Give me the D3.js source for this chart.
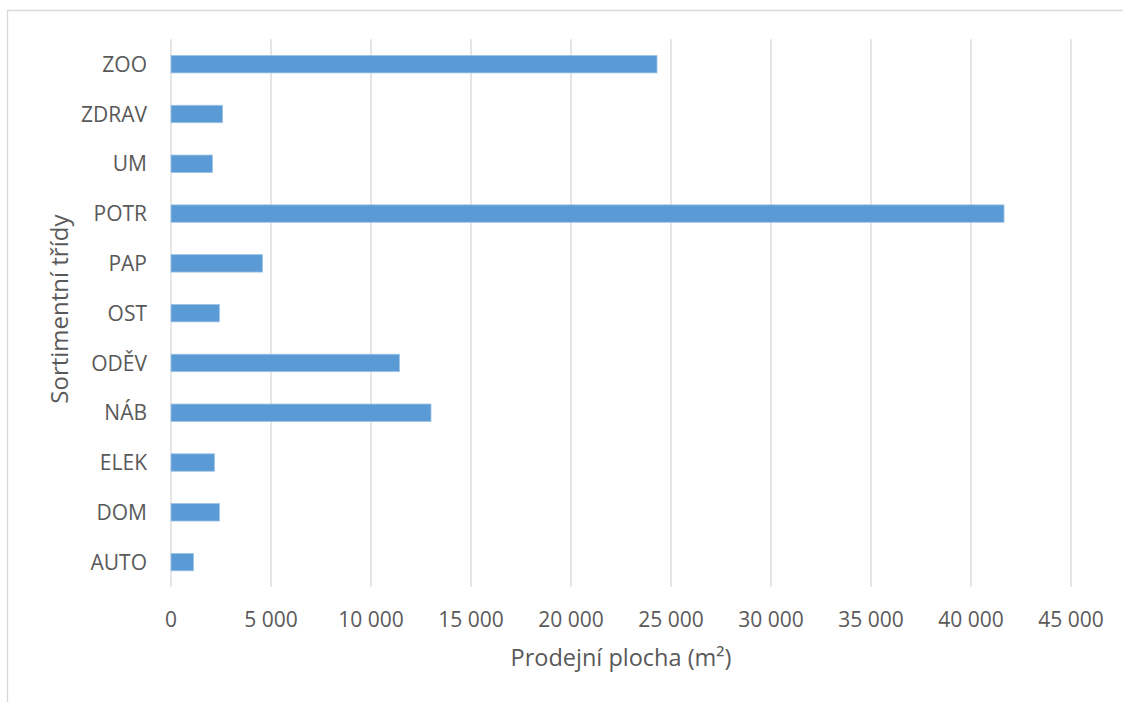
<!DOCTYPE html>
<html>
<head>
<meta charset="utf-8">
<script src="https://cdn.jsdelivr.net/npm/d3@7"></script>
<style>
  body { margin: 0; background: #fff; }
  svg text { font-family: 'Open Sans', sans-serif; fill: #595959; }
</style>
</head>
<body>
<div id="chart"></div>
<script>
  // categories (bottom to top, as in the source sheet) and floor areas in m²
  const categories = ['AUTO', 'DOM', 'ELEK', 'NÁB', 'ODĚV', 'OST', 'PAP', 'POTR', 'UM', 'ZDRAV', 'ZOO'];
  const areas = [1120, 2420, 2170, 13000, 11420, 2420, 4570, 41650, 2070, 2580, 24300];
  const xTicks = [0, 5000, 10000, 15000, 20000, 25000, 30000, 35000, 40000, 45000];
  const xTitle = 'Prodejní plocha (m²)';
  const yTitle = 'Sortimentní třídy';

  const width = 1123;
  const height = 702;
  const plot = { left: 171, right: 1071, top: 39.3, bottom: 587 };

  const data = categories.map((c, i) => ({ cat: c, value: areas[i] }));

  const svg = d3.select('#chart').append('svg')
    .attr('width', width)
    .attr('height', height);

  // chart area border (only top and left edges fall inside the picture)
  svg.append('path')
    .attr('d', `M7.5,${height} V10.5 H${width}`)
    .attr('fill', 'none')
    .attr('stroke', '#d9d9d9')
    .attr('stroke-width', 1.3);

  const x = d3.scaleLinear()
    .domain([0, 45000])
    .range([plot.left, plot.right]);

  const y = d3.scaleBand()
    .domain(categories.slice().reverse())
    .range([plot.top, plot.bottom])
    .paddingInner(0.65)
    .paddingOuter(0.325);

  const locale = d3.formatLocale({ decimal: ',', thousands: '\u00a0', grouping: [3], currency: ['', ' Kč'] });
  const fmt = locale.format(',d');

  // vertical gridlines
  svg.append('g').attr('class', 'grid')
    .selectAll('line').data(xTicks)
    .enter().append('line')
    .attr('x1', d => x(d))
    .attr('x2', d => x(d))
    .attr('y1', plot.top)
    .attr('y2', plot.bottom)
    .attr('stroke', '#d9d9d9')
    .attr('stroke-width', 1.3);

  // bars
  svg.append('g').attr('class', 'bars')
    .selectAll('rect').data(data)
    .enter().append('rect')
    .attr('x', x(0))
    .attr('y', d => y(d.cat))
    .attr('width', d => x(d.value) - x(0))
    .attr('height', y.bandwidth())
    .attr('fill', '#5b9bd5')
    .attr('stroke', '#9dc3e6')
    .attr('stroke-width', 0.8);

  // x tick labels
  svg.append('g').attr('class', 'x-labels')
    .selectAll('text').data(xTicks)
    .enter().append('text')
    .attr('x', d => x(d))
    .attr('y', 627)
    .attr('text-anchor', 'middle')
    .style('font-size', '21px')
    .text(d => fmt(d));

  // category labels
  svg.append('g').attr('class', 'y-labels')
    .selectAll('text').data(categories)
    .enter().append('text')
    .attr('x', 147)
    .attr('y', d => y(d) + y.bandwidth() / 2)
    .attr('dy', '0.36em')
    .attr('text-anchor', 'end')
    .style('font-size', '21px')
    .text(d => d);

  // axis titles
  svg.append('text')
    .attr('x', (plot.left + plot.right) / 2)
    .attr('y', 666)
    .attr('text-anchor', 'middle')
    .style('font-size', '23.5px')
    .text(xTitle);

  svg.append('text')
    .attr('transform', `translate(68, ${(plot.top + plot.bottom) / 2 - 4}) rotate(-90)`)
    .attr('text-anchor', 'middle')
    .style('font-size', '24px')
    .text(yTitle);
</script>
</body>
</html>
